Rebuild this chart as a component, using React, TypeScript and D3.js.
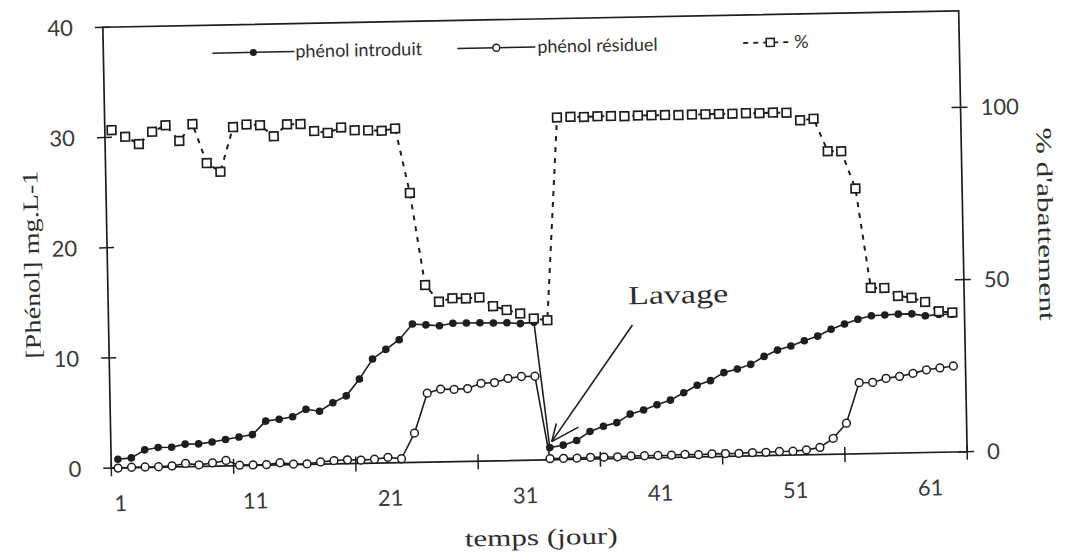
import * as d3 from 'd3';

// days of the experiment (x categories)
const DAYS = [
  1, 2, 3, 4, 5, 6, 7, 8, 9, 10, 11, 12, 13, 14, 15, 16, 17, 18, 19, 20, 21,
  22, 23, 24, 25, 26, 27, 28, 29, 30, 31, 32, 33, 34, 35, 36, 37, 38, 39, 40, 41, 42,
  43, 44, 45, 46, 47, 48, 49, 50, 51, 52, 53, 54, 55, 56, 57, 58, 59, 60, 61, 62, 63,
];

// mg/L, left axis
const PHENOL_INTRODUIT = [
  0.8, 0.9, 1.6, 1.8, 1.8, 2.05, 2.05, 2.2, 2.4, 2.6, 2.8, 4.0, 4.15, 4.35, 5.0, 4.8, 5.55,
  6.15, 7.65, 9.45, 10.3, 11.15, 12.55, 12.45, 12.35, 12.55, 12.55, 12.55, 12.5, 12.5, 12.4,
  12.5, 1.1, 1.3, 1.7, 2.5, 2.95, 3.25, 4.0, 4.35, 4.8, 5.2, 5.85, 6.5, 6.9, 7.6, 7.9, 8.3,
  9.0, 9.55, 9.9, 10.35, 10.75, 11.35, 11.8, 12.2, 12.5, 12.55, 12.6, 12.6, 12.4, 12.5, 12.5,
];

const PHENOL_RESIDUEL = [
  0, 0.05, 0.05, 0.05, 0.1, 0.3, 0.15, 0.3, 0.5, 0.05, 0.05, 0.05, 0.2, 0.05, 0.05, 0.2, 0.3,
  0.35, 0.3, 0.35, 0.5, 0.35, 2.65, 6.25, 6.6, 6.55, 6.6, 7.05, 7.1, 7.45, 7.6, 7.6, 0.1, 0.1,
  0.1, 0.15, 0.15, 0.15, 0.2, 0.2, 0.2, 0.2, 0.25, 0.2, 0.25, 0.25, 0.25, 0.3, 0.3, 0.35,
  0.35, 0.45, 0.65, 1.45, 2.8, 6.45, 6.45, 6.8, 6.95, 7.2, 7.5, 7.65, 7.8,
];

// % d'abattement, right axis
const ABATTEMENT = [
  98.1, 96.1, 93.9, 97.4, 99.2, 94.6, 99.4, 88.0, 85.4, 98.3, 99.0, 98.7, 95.4, 98.8, 98.8,
  96.7, 96.1, 97.6, 96.7, 96.6, 96.4, 97.0, 78.2, 51.4, 46.5, 47.4, 47.3, 47.5, 44.9, 43.7,
  42.6, 41.1, 40.5, 99.3, 99.4, 99.3, 99.4, 99.4, 99.3, 99.4, 99.4, 99.4, 99.3, 99.4, 99.4,
  99.4, 99.4, 99.5, 99.4, 99.5, 99.4, 97.1, 97.5, 88.0, 87.9, 77.0, 48.1, 48.0, 45.6, 45.0,
  43.7, 40.9, 40.5,
];

const LEFT_TICKS = [0, 10, 20, 30, 40];
const RIGHT_TICKS = [0, 50, 100];
const X_LABELS = [1, 11, 21, 31, 41, 51, 61];
const X_TICK_COUNT = 8;
const LAVAGE_DAY = 33;

const W = 1066;
const H = 553;
const PLOT = { left: 107, right: 963, top: 19, bottom: 460 };
const INK = '#1e1e1e';
const TEXT = '#2e2e2e';
const SKEW = -1.1; // the scanned page sits slightly rotated
const SANS = 'Lato, "Open Sans", sans-serif';
const SERIF = '"Liberation Serif", "Times New Roman", serif';

export default function App() {
  const x = d3.scaleLinear().domain([0.5, 63.9]).range([PLOT.left, PLOT.right]);
  const yL = d3.scaleLinear().domain([0, 40]).range([PLOT.bottom, PLOT.top]);
  const yR = d3.scaleLinear().domain([0, 128]).range([PLOT.bottom, PLOT.top]);

  const [d0, d1] = x.domain();
  const xTicks = d3.range(X_TICK_COUNT).map((i) => d0 + (i * (d1 - d0)) / (X_TICK_COUNT - 1));

  const intro: [number, number][] = DAYS.map((d, i) => [x(d), yL(PHENOL_INTRODUIT[i])]);
  const resid: [number, number][] = DAYS.map((d, i) => [x(d), yL(PHENOL_RESIDUEL[i])]);
  const pct: [number, number][] = DAYS.map((d, i) => [x(d), yR(ABATTEMENT[i])]);
  const line = d3.line();

  // arrow tip sits on the "Lavage" point
  const li = DAYS.indexOf(LAVAGE_DAY);
  const tipX = x(LAVAGE_DAY) + 2;
  const tipY = yL(PHENOL_INTRODUIT[li]) - 6;

  const cx = (PLOT.left + PLOT.right) / 2 + 0.5;
  const cy = (PLOT.top + PLOT.bottom) / 2;

  return (
    <svg
      width={W}
      height={H}
      style={{ position: 'absolute', left: 0, top: 0, background: '#fff' }}
    >
      <rect width={W} height={H} fill="#fff" />
      <g transform={`rotate(${SKEW},${cx},${cy})`}>
        {/* frame */}
        <rect
          x={PLOT.left}
          y={PLOT.top}
          width={PLOT.right - PLOT.left}
          height={PLOT.bottom - PLOT.top}
          fill="none"
          stroke={INK}
          strokeWidth={1.7}
        />

        {/* left axis */}
        {LEFT_TICKS.map((t) => (
          <g key={`l${t}`}>
            <line x1={PLOT.left - 8} x2={PLOT.left + 7} y1={yL(t)} y2={yL(t)} stroke={INK} strokeWidth={1.5} />
            <text x={PLOT.left - 30} y={yL(t) + 8} textAnchor="end" fontFamily={SANS} fontSize={22} fill="#3a3a3a">
              {t}
            </text>
          </g>
        ))}

        {/* right axis */}
        {RIGHT_TICKS.map((t) => (
          <g key={`r${t}`}>
            <line x1={PLOT.right - 9} x2={PLOT.right + 7} y1={yR(t)} y2={yR(t)} stroke={INK} strokeWidth={1.5} />
            <text x={PLOT.right + 20} y={yR(t) + 8} fontFamily={SANS} fontSize={22} fill="#3a3a3a">
              {t}
            </text>
          </g>
        ))}

        {/* bottom axis */}
        {xTicks.map((t, i) => (
          <line key={`x${i}`} x1={x(t)} x2={x(t)} y1={PLOT.bottom - 7} y2={PLOT.bottom + 8} stroke={INK} strokeWidth={1.5} />
        ))}
        {X_LABELS.map((d) => (
          <text key={`xl${d}`} x={x(d) + 2} y={PLOT.bottom + 43} textAnchor="middle" fontFamily={SANS} fontSize={22} fill="#3a3a3a">
            {d}
          </text>
        ))}

        {/* axis titles */}
        <text
          transform={`translate(31,255) rotate(-90)`}
          textAnchor="middle"
          dy="0.35em"
          fontFamily={SERIF}
          fontSize={22}
          fill={TEXT}
          textLength={188}
          lengthAdjust="spacingAndGlyphs"
        >
          [Phénol] mg.L-1
        </text>
        <text
          transform={`translate(1046,234) rotate(90)`}
          textAnchor="middle"
          dy="0.35em"
          fontFamily={SERIF}
          fontSize={22}
          fill={TEXT}
          textLength={193}
          lengthAdjust="spacingAndGlyphs"
        >
          % d'abattement
        </text>
        <text
          x={cx}
          y={545}
          textAnchor="middle"
          fontFamily={SERIF}
          fontSize={23}
          fill={TEXT}
          textLength={153}
          lengthAdjust="spacingAndGlyphs"
        >
          temps (jour)
        </text>

        {/* phénol introduit */}
        <path d={line(intro) ?? ''} fill="none" stroke={INK} strokeWidth={1.6} />
        {intro.map(([px, py], i) => (
          <circle key={`i${i}`} cx={px} cy={py} r={3.8} fill={INK} />
        ))}

        {/* phénol résiduel */}
        <path d={line(resid) ?? ''} fill="none" stroke={INK} strokeWidth={1.6} />
        {resid.map(([px, py], i) => (
          <circle key={`o${i}`} cx={px} cy={py} r={3.9} fill="#fff" stroke={INK} strokeWidth={1.5} />
        ))}

        {/* % abattement */}
        <path d={line(pct) ?? ''} fill="none" stroke={INK} strokeWidth={2} strokeDasharray="5,6" />
        {pct.map(([px, py], i) => (
          <rect key={`p${i}`} x={px - 4.3} y={py - 4.3} width={8.6} height={8.6} fill="#fff" stroke={INK} strokeWidth={1.7} />
        ))}

        {/* Lavage annotation */}
        <text
          x={677}
          y={306}
          textAnchor="middle"
          fontFamily={SERIF}
          fontSize={26}
          fill={TEXT}
          textLength={100}
          lengthAdjust="spacingAndGlyphs"
        >
          Lavage
        </text>
        <line x1={tipX + 83} y1={tipY - 115} x2={tipX} y2={tipY} stroke={INK} strokeWidth={1.6} />
        <line x1={tipX} y1={tipY} x2={tipX + 5} y2={tipY - 18} stroke={INK} strokeWidth={1.6} />
        <line x1={tipX} y1={tipY} x2={tipX + 27} y2={tipY - 14} stroke={INK} strokeWidth={1.6} />

        {/* legend */}
        <g fontFamily={SANS} fontSize={18} fill={TEXT}>
          <line x1={216} x2={298} y1={47} y2={47} stroke={INK} strokeWidth={1.5} />
          <circle cx={257} cy={47} r={3.5} fill={INK} />
          <text x={299} y={53}>phénol introduit</text>

          <line x1={461} x2={539} y1={47} y2={47} stroke={INK} strokeWidth={1.5} />
          <circle cx={500} cy={47} r={3.5} fill="#fff" stroke={INK} strokeWidth={1.4} />
          <text x={541} y={53}>phénol résiduel</text>

          <line x1={747} x2={795} y1={47} y2={47} stroke={INK} strokeWidth={1.8} strokeDasharray="5,5" />
          <rect x={770} y={43} width={8} height={8} fill="#fff" stroke={INK} strokeWidth={1.5} />
          <text x={798} y={53}>%</text>
        </g>
      </g>
    </svg>
  );
}
